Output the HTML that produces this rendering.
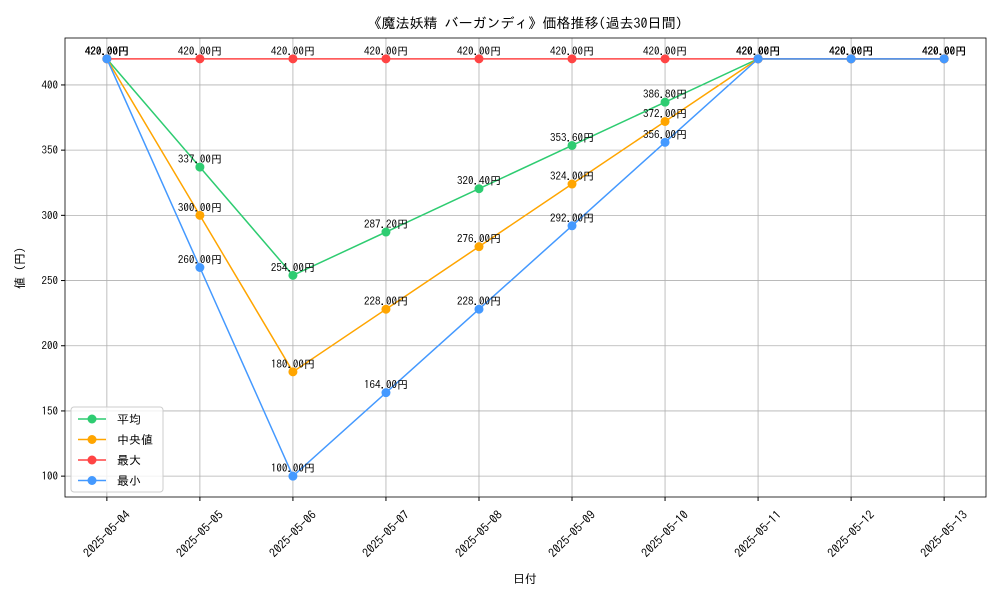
<!DOCTYPE html>
<html><head><meta charset="utf-8"><style>
body{margin:0;background:#fff;}
svg{font-family:"IPAGothic","Liberation Sans","Noto Sans CJK JP",sans-serif;}
</style></head><body>
<svg id="chart" width="1000" height="600" viewBox="0 0 1000 600" xmlns="http://www.w3.org/2000/svg">
<rect width="1000" height="600" fill="#fff"/>
<text x="525" y="28" font-size="14" text-anchor="middle">《魔法妖精 バーガンディ》価格推移(過去30日間)</text>
<g id="grid"></g><g id="series"></g><g id="axes"></g>
<text x="525" y="583" font-size="12" text-anchor="middle">日付</text>
<text transform="translate(24,268) rotate(-90)" font-size="12" text-anchor="middle">値 (円)</text>
<g id="legend"></g>
</svg>
<script>
const dates=["2025-05-04","2025-05-05","2025-05-06","2025-05-07","2025-05-08","2025-05-09","2025-05-10","2025-05-11","2025-05-12","2025-05-13"];
const avgVals=[420,337,254,287.2,320.4,353.6,386.8,420,420,420];
const medVals=[420,300,180,228,276,324,372,420,420,420];
const maxVals=[420,420,420,420,420,420,420,420,420,420];
const minVals=[420,260,100,164,228,292,356,420,420,420];
const yTicks=[100,150,200,250,300,350,400];
const seriesNames=["平均","中央値","最大","最小"];
const seriesColors=["#2ecc71","#ffa500","#ff4444","#4499ff"];
const NS="http://www.w3.org/2000/svg";
const L=65,R=986,T=38,B=497;
const all=[].concat(avgVals,medVals,maxVals,minVals);
const dmin=Math.min(...all),dmax=Math.max(...all),pad=(dmax-dmin)*0.05||1;
const ymin=dmin-pad,ymax=dmax+pad;
const xs=i=>{const w=(R-L)/(dates.length-1+0.9);return L+w*0.45+i*w;};
const ys=v=>B-(v-ymin)/(ymax-ymin)*(B-T);
function mk(tag,attrs,parent){const e=document.createElementNS(NS,tag);for(const k in attrs)e.setAttribute(k,attrs[k]);parent.appendChild(e);return e;}
const grid=document.getElementById('grid'),axes=document.getElementById('axes'),ser=document.getElementById('series'),leg=document.getElementById('legend');
dates.forEach((d,i)=>{const x=xs(i);
const g=mk('line',{x1:x,x2:x,y1:T,y2:B,stroke:'#b0b0b0','stroke-width':0.8},grid);


mk('line',{x1:x,x2:x,y1:B,y2:B+4,stroke:'#000'},axes);
const t=mk('text',{x:0,y:4,'font-size':12,'text-anchor':'middle',transform:`translate(${x},${B+37}) rotate(-45)`},axes);
t.textContent=d;

});
yTicks.forEach(v=>{const y=ys(v);
const g=mk('line',{x1:L,x2:R,y1:y,y2:y,stroke:'#b0b0b0','stroke-width':0.8},grid);


mk('line',{x1:L-4,x2:L,y1:y,y2:y,stroke:'#000'},axes);
const t=mk('text',{x:L-7,y:y+4,'font-size':11,'text-anchor':'end'},axes);
t.textContent=v;

});
const fr=mk('rect',{x:L,y:T,width:R-L,height:B-T,fill:'none',stroke:'#000','stroke-width':0.8},axes);


[avgVals,medVals,maxVals,minVals].forEach((vals,s)=>{const g=mk('g',{},ser);


mk('polyline',{points:vals.map((v,i)=>xs(i)+','+ys(v)).join(' '),fill:'none',stroke:seriesColors[s],'stroke-width':1.5},g);
vals.forEach((v,i)=>{const c=mk('circle',{cx:xs(i),cy:ys(v),r:4.5,fill:seriesColors[s]},g);


const t=mk('text',{x:xs(i),y:ys(v)-4,'font-size':11,'text-anchor':'middle'},g);
t.textContent=v.toFixed(2)+'円';

});});
const lb=mk('rect',{x:71,y:407,width:92,height:85,fill:'#fff',stroke:'#ccc',rx:3,'fill-opacity':0.8},leg);


seriesNames.forEach((n,s)=>{const y=419+s*20.5;const g=mk('g',{},leg);


mk('line',{x1:78,x2:106,y1:y,y2:y,stroke:seriesColors[s],'stroke-width':1.5},g);
mk('circle',{cx:92,cy:y,r:4.5,fill:seriesColors[s]},g);
const t=mk('text',{x:117,y:y+4.5,'font-size':12},g);t.textContent=n;});
</script>
</body></html>
